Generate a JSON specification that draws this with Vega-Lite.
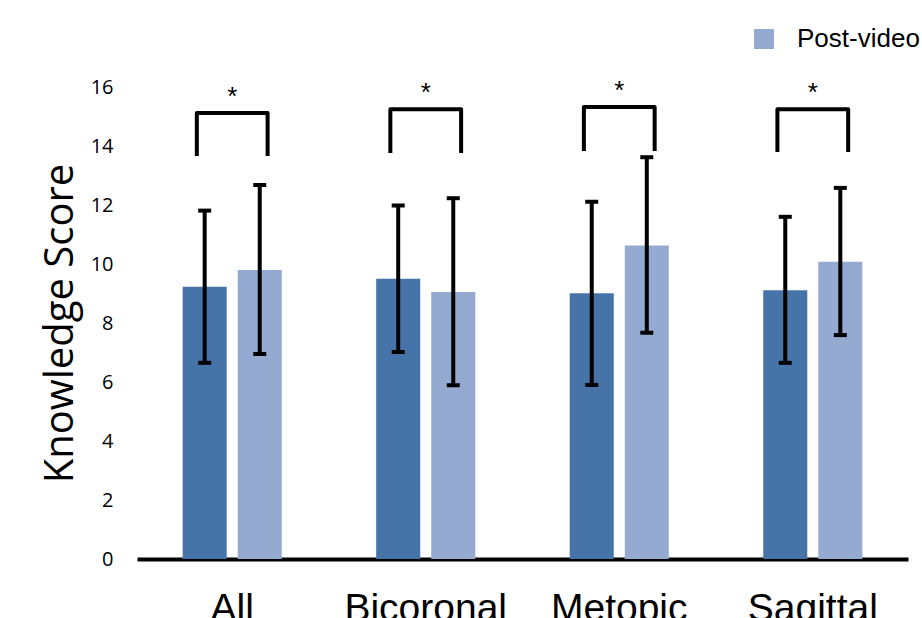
{
  "$schema": "https://vega.github.io/schema/vega-lite/v6.json",
  "autosize": {"type": "none"},
  "width": 771,
  "height": 472,
  "padding": {"left": 137, "top": 87, "right": 14, "bottom": 59},
  "background": "white",
  "config": {"view": {"stroke": null}},
  "datasets": {
    "scores": [
      {"category": "All", "group": "Pre-video", "mean": 9.23, "lo": 6.65, "hi": 11.81},
      {"category": "All", "group": "Post-video", "mean": 9.80, "lo": 6.95, "hi": 12.68},
      {"category": "Bicoronal", "group": "Pre-video", "mean": 9.50, "lo": 7.02, "hi": 11.98},
      {"category": "Bicoronal", "group": "Post-video", "mean": 9.05, "lo": 5.89, "hi": 12.23},
      {"category": "Metopic", "group": "Pre-video", "mean": 9.01, "lo": 5.90, "hi": 12.11},
      {"category": "Metopic", "group": "Post-video", "mean": 10.63, "lo": 7.67, "hi": 13.62},
      {"category": "Sagittal", "group": "Pre-video", "mean": 9.11, "lo": 6.65, "hi": 11.60},
      {"category": "Sagittal", "group": "Post-video", "mean": 10.08, "lo": 7.59, "hi": 12.58}
    ],
    "brackets": [
      {"category": "All", "side": "L", "ord": 1, "y": 13.66},
      {"category": "All", "side": "L", "ord": 2, "y": 15.12},
      {"category": "All", "side": "R", "ord": 3, "y": 15.12},
      {"category": "All", "side": "R", "ord": 4, "y": 13.66},
      {"category": "Bicoronal", "side": "L", "ord": 1, "y": 13.76},
      {"category": "Bicoronal", "side": "L", "ord": 2, "y": 15.25},
      {"category": "Bicoronal", "side": "R", "ord": 3, "y": 15.25},
      {"category": "Bicoronal", "side": "R", "ord": 4, "y": 13.76},
      {"category": "Metopic", "side": "L", "ord": 1, "y": 13.83},
      {"category": "Metopic", "side": "L", "ord": 2, "y": 15.32},
      {"category": "Metopic", "side": "R", "ord": 3, "y": 15.32},
      {"category": "Metopic", "side": "R", "ord": 4, "y": 13.83},
      {"category": "Sagittal", "side": "L", "ord": 1, "y": 13.80},
      {"category": "Sagittal", "side": "L", "ord": 2, "y": 15.25},
      {"category": "Sagittal", "side": "R", "ord": 3, "y": 15.25},
      {"category": "Sagittal", "side": "R", "ord": 4, "y": 13.80}
    ],
    "stars": [
      {"category": "All", "label": "*", "y": 15.12},
      {"category": "Bicoronal", "label": "*", "y": 15.25},
      {"category": "Metopic", "label": "*", "y": 15.32},
      {"category": "Sagittal", "label": "*", "y": 15.25}
    ]
  },
  "layer": [
    {
      "data": {"name": "scores"},
      "mark": {"type": "bar"},
      "encoding": {
        "x": {
          "field": "category", "type": "nominal",
          "sort": ["All", "Bicoronal", "Metopic", "Sagittal"],
          "scale": {"paddingInner": 0.488, "paddingOuter": 0.236},
          "axis": {
            "title": null, "ticks": false, "labelAngle": 0,
            "domainColor": "black", "domainWidth": 4,
            "labelFont": "Liberation Sans", "labelFontSize": 39, "labelColor": "black",
            "labelPadding": 30, "grid": false
          }
        },
        "xOffset": {
          "field": "group", "type": "nominal",
          "sort": ["Pre-video", "Post-video"],
          "scale": {"paddingInner": 0.2, "paddingOuter": 0}
        },
        "y": {
          "field": "mean", "type": "quantitative",
          "title": "Knowledge Score",
          "scale": {"domain": [0, 16]},
          "axis": {
            "values": [0, 2, 4, 6, 8, 10, 12, 14, 16],
            "domain": false, "ticks": false, "grid": false,
            "labelFont": "Open Sans", "labelFontSize": 20, "labelColor": "black",
            "labelPadding": 24,
            "titleFont": "Open Sans", "titleFontSize": 40, "titleFontWeight": "normal",
            "titleColor": "black", "titlePadding": 10
          }
        },
        "color": {
          "field": "group", "type": "nominal",
          "sort": ["Pre-video", "Post-video"],
          "scale": {"domain": ["Pre-video", "Post-video"], "range": ["#4674A8", "#95AAD1"]},
          "legend": {
            "orient": "none", "legendX": 614, "legendY": -127,
            "title": null, "padding": 0,
            "symbolType": "square", "symbolSize": 400, "symbolStrokeWidth": 0,
            "labelFont": "Liberation Sans", "labelFontSize": 26, "labelColor": "black",
            "labelOffset": 20, "rowPadding": 40
          }
        }
      }
    },
    {
      "data": {"name": "scores"},
      "mark": {"type": "rule", "color": "black", "strokeWidth": 4},
      "encoding": {
        "x": {"field": "category", "type": "nominal", "sort": ["All", "Bicoronal", "Metopic", "Sagittal"]},
        "xOffset": {"field": "group", "type": "nominal", "sort": ["Pre-video", "Post-video"], "scale": {"paddingInner": 0.2, "paddingOuter": 0}},
        "y": {"field": "lo", "type": "quantitative", "title": "Knowledge Score"},
        "y2": {"field": "hi"}
      }
    },
    {
      "data": {"name": "scores"},
      "mark": {"type": "tick", "color": "black", "thickness": 4, "size": 13, "opacity": 1},
      "encoding": {
        "x": {"field": "category", "type": "nominal", "sort": ["All", "Bicoronal", "Metopic", "Sagittal"]},
        "xOffset": {"field": "group", "type": "nominal", "sort": ["Pre-video", "Post-video"], "scale": {"paddingInner": 0.2, "paddingOuter": 0}},
        "y": {"field": "lo", "type": "quantitative", "title": "Knowledge Score"}
      }
    },
    {
      "data": {"name": "scores"},
      "mark": {"type": "tick", "color": "black", "thickness": 4, "size": 13, "opacity": 1},
      "encoding": {
        "x": {"field": "category", "type": "nominal", "sort": ["All", "Bicoronal", "Metopic", "Sagittal"]},
        "xOffset": {"field": "group", "type": "nominal", "sort": ["Pre-video", "Post-video"], "scale": {"paddingInner": 0.2, "paddingOuter": 0}},
        "y": {"field": "hi", "type": "quantitative", "title": "Knowledge Score"}
      }
    },
    {
      "data": {"name": "brackets"},
      "mark": {"type": "line", "color": "black", "strokeWidth": 4, "strokeJoin": "round"},
      "encoding": {
        "x": {"field": "category", "type": "nominal", "sort": ["All", "Bicoronal", "Metopic", "Sagittal"]},
        "xOffset": {"field": "side", "type": "nominal", "sort": ["L", "R"], "scale": {"paddingInner": 0.9, "paddingOuter": 0.2}},
        "y": {"field": "y", "type": "quantitative", "title": "Knowledge Score"},
        "detail": {"field": "category"},
        "order": {"field": "ord", "type": "quantitative"}
      }
    },
    {
      "data": {"name": "stars"},
      "mark": {"type": "text", "font": "Liberation Sans", "fontSize": 26, "color": "black", "baseline": "middle", "dy": -16},
      "encoding": {
        "x": {"field": "category", "type": "nominal", "sort": ["All", "Bicoronal", "Metopic", "Sagittal"]},
        "y": {"field": "y", "type": "quantitative", "title": "Knowledge Score"},
        "text": {"field": "label"}
      }
    }
  ],
  "resolve": {"scale": {"xOffset": "independent"}}
}
